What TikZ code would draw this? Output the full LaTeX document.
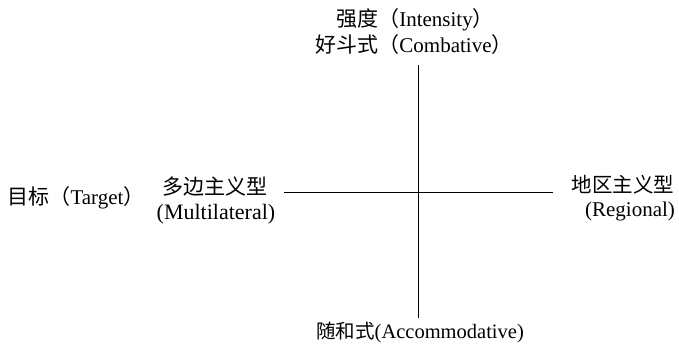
\documentclass[tikz,border=0pt]{standalone}
\usepackage{fontspec}
\setmainfont{Liberation Serif}
\newfontfamily\cjk{Noto Sans CJK SC}
\newcommand\zh[1]{{\cjk #1}}
\newcommand\fs[1]{\fontsize{#1}{#1}\selectfont}
\begin{document}
\begin{tikzpicture}[x=1pt,y=-1pt,
  lbl/.style={inner sep=0pt,anchor=center,font=\fs{20.5}},
  axis/.style={draw=black,line width=1pt}]
\useasboundingbox (0,0) rectangle (679,348);
\node[lbl,font=\fs{21}] (top1) at (415,20) {\zh{强度（}Intensity\zh{）}};
\node[lbl,font=\fs{21}] (top2) at (414,45) {\zh{好斗式（}Combative\zh{）}};
\node[lbl,font=\fs{21}] (target) at (76,198) {\zh{目标（}Target\zh{）}};
\node[lbl,font=\fs{21}] (multi1) at (215,186) {\zh{多边主义型}};
\node[lbl,font=\fs{22}] (multi2) at (216,214) {(Multilateral)};
\node[lbl] (reg1) at (623,185) {\zh{地区主义型}};
\node[lbl,font=\fs{21}] (reg2) at (630,211) {(Regional)};
\node[lbl,font=\fs{19.5}] (bottom) at (420,332) {\zh{随和式}{\fs{20.5}(Accommodative)}};
\coordinate (vtop) at (418,65);
\coordinate (vbot) at (418,318);
\coordinate (hleft) at (284,192);
\coordinate (hright) at (553,192);
\draw[axis] (vtop) -- (vbot);
\draw[axis] (hleft) -- (hright);
\end{tikzpicture}
\end{document}
